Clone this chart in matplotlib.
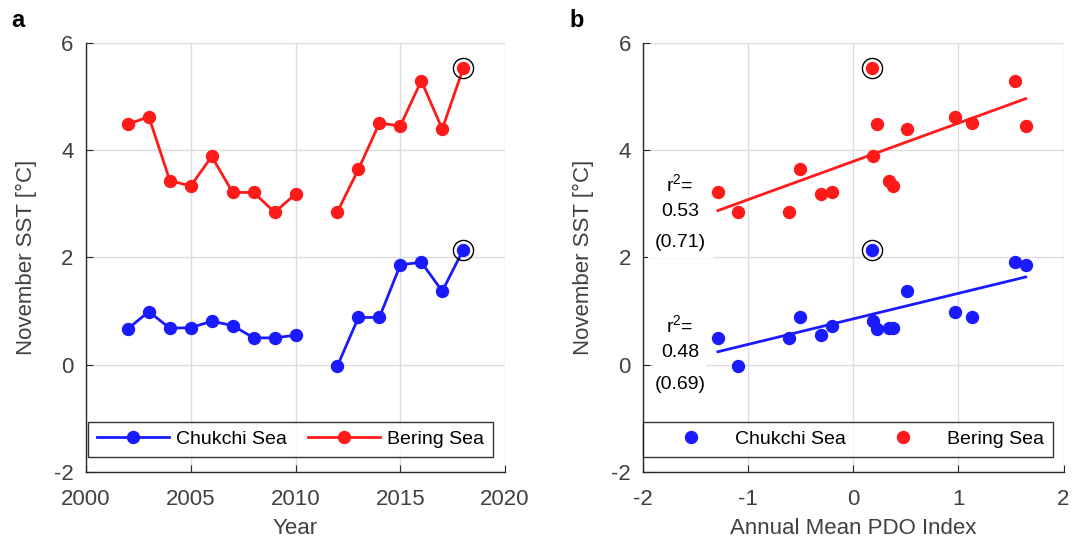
import numpy as np
import matplotlib
matplotlib.use('Agg')
import matplotlib.pyplot as plt

plt.rcParams['font.family'] = ['Liberation Sans', 'DejaVu Sans']
plt.rcParams['axes.unicode_minus'] = False
plt.rcParams['mathtext.fontset'] = 'custom'
plt.rcParams['mathtext.rm'] = 'Liberation Sans'

# November SST data
years1 = [2002, 2003, 2004, 2005, 2006, 2007, 2008, 2009, 2010]
years2 = [2012, 2013, 2014, 2015, 2016, 2017, 2018]
chukchi1 = [0.67, 0.99, 0.68, 0.69, 0.81, 0.73, 0.50, 0.50, 0.55]
chukchi2 = [-0.02, 0.88, 0.88, 1.86, 1.91, 1.37, 2.14]
bering1 = [4.48, 4.62, 3.43, 3.33, 3.88, 3.21, 3.21, 2.84, 3.18]
bering2 = [2.85, 3.64, 4.50, 4.45, 5.29, 4.39, 5.52]
# annual mean PDO index, same year order as above
pdo1 = [0.22, 0.97, 0.34, 0.38, 0.19, -0.20, -1.29, -0.61, -0.31]
pdo2 = [-1.10, -0.51, 1.13, 1.64, 1.54, 0.51, 0.175]

r2_chukchi = ['0.48', '(0.69)']
r2_bering = ['0.53', '(0.71)']

blue = '#1a1aff'
red = '#ff1a1a'
gray = '#404040'

fig = plt.figure(figsize=(10.83, 5.47), dpi=100)
ax1 = fig.add_axes([0.0794, 0.137, 0.387, 0.785])
ax2 = fig.add_axes([0.594, 0.137, 0.388, 0.785])

ms = 8.6
lw = 2.0

# panel a: time series
l1, = ax1.plot(years1, chukchi1, '-o', color=blue, ms=ms, lw=lw, label='Chukchi Sea')
ax1.plot(years2, chukchi2, '-o', color=blue, ms=ms, lw=lw)
l2, = ax1.plot(years1, bering1, '-o', color=red, ms=ms, lw=lw, label='Bering Sea')
ax1.plot(years2, bering2, '-o', color=red, ms=ms, lw=lw)
ax1.plot([years2[-1]] * 2, [chukchi2[-1], bering2[-1]], 'o', ms=14.5,
         mfc='none', mec='black', mew=1.0)
ax1.set_xlim(2000, 2020)
ax1.set_xticks([2000, 2005, 2010, 2015, 2020])
ax1.set_xlabel('Year', fontsize=16, color=gray, labelpad=6)
ax1.set_ylabel('November SST [°C]', fontsize=16, color=gray, labelpad=12)

# panel b: scatter vs PDO with linear fits
pdo = np.array(pdo1 + pdo2)
chuk = np.array(chukchi1 + chukchi2)
ber = np.array(bering1 + bering2)
s1, = ax2.plot(pdo, chuk, 'o', color=blue, ms=ms, label='Chukchi Sea')
s2, = ax2.plot(pdo, ber, 'o', color=red, ms=ms, label='Bering Sea')
xf = np.array([pdo.min(), pdo.max()])
for yv, c in [(chuk, blue), (ber, red)]:
    p = np.polyfit(pdo, yv, 1)
    ax2.plot(xf, np.polyval(p, xf), '-', color=c, lw=lw)
ax2.plot([pdo[-1]] * 2, [chuk[-1], ber[-1]], 'o', ms=14.5,
         mfc='none', mec='black', mew=1.0)
ax2.set_xlim(-2, 2)
ax2.set_xticks([-2, -1, 0, 1, 2])
ax2.set_xlabel('Annual Mean PDO Index', fontsize=16, color=gray, labelpad=6)
ax2.set_ylabel('November SST [°C]', fontsize=16, color=gray, labelpad=12)

bb = dict(facecolor='white', edgecolor='none', pad=5)
for ys, vals in [((3.35, 2.85, 2.27), r2_bering), ((0.73, 0.22, -0.36), r2_chukchi)]:
    ax2.text(-1.65, ys[0], 'r$^2$=', fontsize=14, ha='center', va='center', bbox=bb)
    ax2.text(-1.65, ys[1], vals[0], fontsize=14, ha='center', va='center', bbox=bb)
    ax2.text(-1.65, ys[2], vals[1], fontsize=14, ha='center', va='center', bbox=bb)

for ax in (ax1, ax2):
    ax.set_ylim(-2, 6)
    ax.set_yticks([-2, 0, 2, 4, 6])
    ax.grid(True, color='#dcdcdc', lw=1.0)
    ax.set_axisbelow(True)
    ax.spines['top'].set_visible(False)
    ax.spines['right'].set_visible(False)
    for s in ('left', 'bottom'):
        ax.spines[s].set_color('#262626')
        ax.spines[s].set_linewidth(1.0)
    ax.tick_params(direction='in', labelsize=16, colors='#262626',
                   labelcolor=gray, length=5)
    ax.tick_params(axis='x', pad=12)
    ax.tick_params(axis='y', pad=9)

leg1 = ax1.legend(handles=[l1, l2], loc='lower center', bbox_to_anchor=(0.488, 0.035),
                  ncol=2, fontsize=14, frameon=True, fancybox=False, handlelength=3.7,
                  columnspacing=1.08, borderpad=0.45, handletextpad=0.36,
                  borderaxespad=0)
leg2 = ax2.legend(handles=[s1, s2], loc='lower center', bbox_to_anchor=(0.487, 0.035),
                  ncol=2, fontsize=14, frameon=True, fancybox=False, handlelength=4.0,
                  columnspacing=0.93, borderpad=0.45, handletextpad=0.26,
                  borderaxespad=0)
for lg in (leg1, leg2):
    lg.get_frame().set_edgecolor('black')
    lg.get_frame().set_linewidth(1.0)

fig.text(0.010, 0.963, 'a', fontsize=17, fontweight='bold', va='center')
fig.text(0.526, 0.963, 'b', fontsize=17, fontweight='bold', va='center')

fig.savefig('out.png', dpi=100)
